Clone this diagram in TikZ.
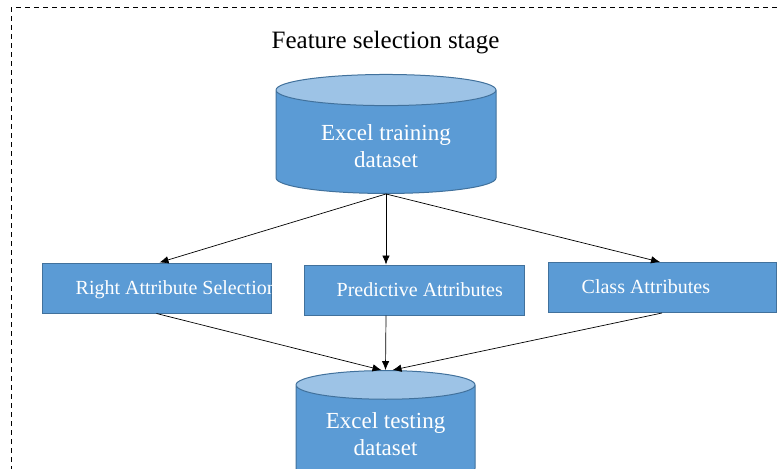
\documentclass[tikz,border=0pt]{standalone}
\usepackage{fontspec}
\setmainfont{Liberation Serif}
\usetikzlibrary{shapes.geometric,arrows.meta}
\definecolor{cylbody}{HTML}{5B9BD5}
\definecolor{cyltop}{HTML}{9DC3E6}
\definecolor{cylline}{HTML}{41719C}

\begin{document}
\begin{tikzpicture}[x=1pt,y=-1pt]
	\tikzstyle{dataset}=[cylinder,shape border rotate=90,aspect=0.24,draw=cylline,line width=1pt,cylinder uses custom fill,cylinder body fill=cylbody,cylinder end fill=cyltop,text=white,font=\fontsize{23}{27}\selectfont,align=center,inner sep=0pt]
	\tikzstyle{attrbox}=[rectangle,draw=cylline,line width=1pt,fill=cylbody,minimum height=50pt,inner sep=0pt]
	\tikzstyle{attrtext}=[anchor=base west,text=white,font=\fontsize{20}{24}\selectfont,inner sep=0pt]
	\tikzstyle{edge}=[draw,line width=0.7pt,-{Latex[length=9pt,width=7.5pt]}]
	\useasboundingbox (0,0) rectangle (778,468);
	\draw[dash pattern=on 5pt off 4pt,line width=1pt] (11,480) -- (11,8) -- (790,8);
	\node[font=\fontsize{25}{30}\selectfont] (title) at (385.5,43) {Feature selection stage};
	\begin{scope}
		\node [dataset,minimum width=220pt,minimum height=119pt] (train) at (386,142) {\rule{0pt}{25pt}Excel training\\dataset};
		\node [attrbox,minimum width=229pt] (rsel) at (156.5,288) {};
		\node [attrbox,minimum width=220pt] (pred) at (414,290) {};
		\node [attrbox,minimum width=228pt] (cls) at (662,287.5) {};
		\node [dataset,minimum width=179pt,minimum height=112pt] (test) at (385.5,434) {Excel testing\\dataset};
		\begin{scope}
			\clip (rsel.south west) rectangle (rsel.north east);
			\node [attrtext] (rseltext) at ([xshift=34pt,yshift=-6pt]rsel.west) {Right Attribute Selection};
		\end{scope}
		\node [attrtext] (predtext) at ([xshift=33pt,yshift=-6pt]pred.west) {Predictive Attributes};
		\node [attrtext] (clstext) at ([xshift=34pt,yshift=-6pt]cls.west) {Class Attributes};
		\path[edge] (train.south) -- ([xshift=3pt]rsel.north);
		\path[edge] (train.south) -- (pred.north -| train.south);
		\path[edge] (train.south) -- ([xshift=-2pt]cls.north);
		\path[edge] (rsel.south) -- ([xshift=-4pt]test.north);
		\path[edge] (pred.south -| train.south) -- (test.north);
		\path[edge] (cls.south) -- ([xshift=7pt]test.north);
	\end{scope}
\end{tikzpicture}
\end{document}
